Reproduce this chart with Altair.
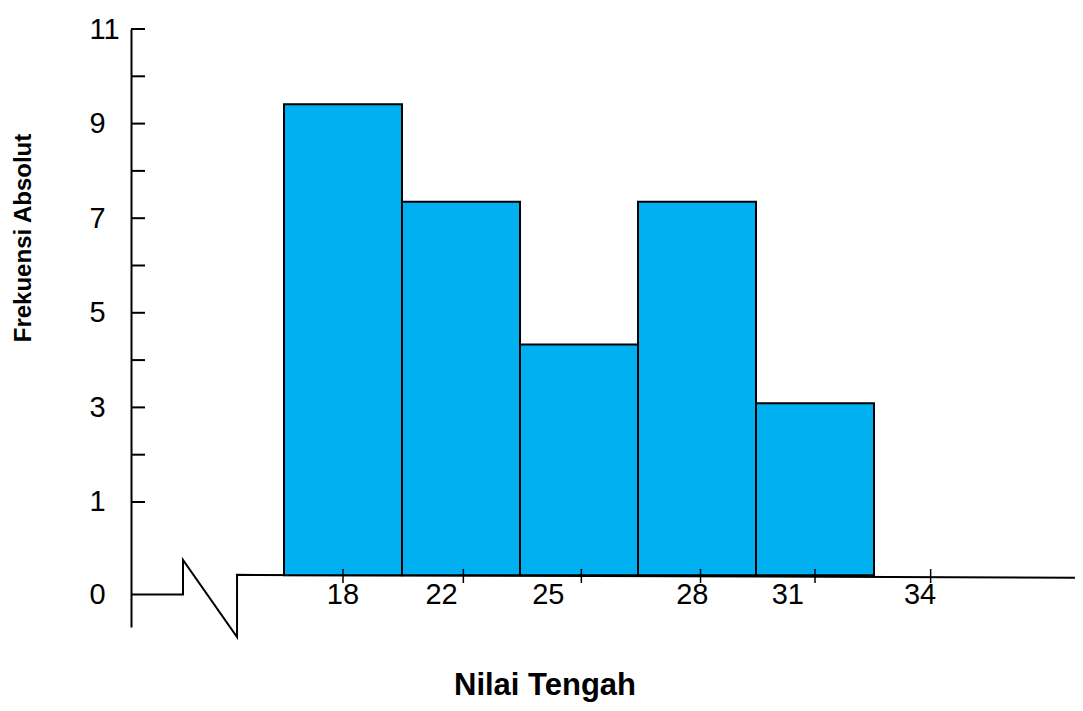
import altair as alt
import pandas as pd

# ---- data ----
bar_index = [0, 1, 2, 3, 4]                     # class number (bar centre)
frekuensi = [9.41, 7.35, 4.33, 7.35, 3.09]      # bar tops as drawn on the axis
bar_base = -0.55                                # drawn floor of the bars (below the break)

x_labels = ["18", "22", "25", "28", "31", "34"]  # Nilai Tengah labels
x_label_pos = [0.0, 0.835, 1.74, 2.96, 3.77, 4.89]
x_tick_pos = [0.0, 1.02, 2.02, 3.03, 4.0, 4.98]

y_label_values = [-0.956, 1, 3, 5, 7, 9, 11]    # -0.956 is the "0" drawn at the break
y_tick_values = [1, 2, 3, 4, 5, 6, 7, 8, 9, 10, 11]

# axis break (zig-zag) and base line, in data units
break_u = [-1.797, -1.356, -1.356, -0.898, -0.898, 6.203]
break_v = [-0.956, -0.956, -0.226, -1.854, -0.54, -0.60]

x_title = "Nilai Tengah"
FONT = "Liberation Sans"

bars_df = pd.DataFrame({
    "x0": [i - 0.5 for i in bar_index],
    "x1": [i + 0.5 for i in bar_index],
    "y0": [bar_base] * len(bar_index),
    "top": frekuensi,
})
break_df = pd.DataFrame({"i": list(range(len(break_u))), "u": break_u, "v": break_v})
ytick_df = pd.DataFrame({"v": y_tick_values})
xtick_df = pd.DataFrame({"u": x_tick_pos})
xlab_df = pd.DataFrame({"u": x_label_pos, "label": x_labels})
xtitle_df = pd.DataFrame({"t": [x_title]})

xs = alt.Scale(domain=[-1.7966, 6.2034], nice=False, zero=False)
ys = alt.Scale(domain=[-1.643, 11], nice=False, zero=False)

y_axis = alt.Axis(
    values=y_label_values,
    labelExpr="datum.value < 0 ? '0' : datum.label",
    ticks=False, grid=False, domain=True, domainColor="black", domainWidth=2,
    labelAlign="left", labelBaseline="middle", labelPadding=42,
    labelFont=FONT, labelFontSize=29, labelColor="black",
    labelOverlap=False, labelFlush=False,
    title="Frekuensi Absolut", titleFont=FONT, titleFontSize=24,
    titleFontWeight="bold", titleColor="black",
    titleX=-108, titleY=208.5, titleAngle=270, titleAlign="center",
    titleBaseline="middle",
)

zigzag = alt.Chart(break_df).mark_line(color="black", strokeWidth=2).encode(
    x=alt.X("u:Q", scale=xs, axis=None),
    y=alt.Y("v:Q", scale=ys, axis=y_axis),
    order="i:O",
)

bars = alt.Chart(bars_df).mark_rect(fill="#00B0F0", stroke="black", strokeWidth=2).encode(
    x=alt.X("x0:Q", scale=xs, axis=None),
    x2="x1",
    y=alt.Y("y0:Q", scale=ys, axis=y_axis),
    y2="top",
)

yticks = alt.Chart(ytick_df).mark_rule(color="black", strokeWidth=2).encode(
    y=alt.Y("v:Q", scale=ys, axis=y_axis),
    x=alt.value(0),
    x2=alt.value(14),
)

xticks = alt.Chart(xtick_df).mark_rule(color="black", strokeWidth=1.5).encode(
    x=alt.X("u:Q", scale=xs, axis=None),
    y=alt.value(540),
    y2=alt.value(554),
)

xlabels = alt.Chart(xlab_df).mark_text(
    font=FONT, fontSize=29, color="black", baseline="middle", align="center"
).encode(
    x=alt.X("u:Q", scale=xs, axis=None),
    y=alt.value(566),
    text="label:N",
)

xtitle = alt.Chart(xtitle_df).mark_text(
    font=FONT, fontSize=31, fontWeight="bold", color="black",
    baseline="alphabetic", align="center"
).encode(
    x=alt.value(414),
    y=alt.value(666),
    text="t:N",
)

chart = alt.layer(zigzag, bars, yticks, xticks, xlabels, xtitle).properties(
    width=944,
    height=598,
    autosize=alt.AutoSizeParams(type="none"),
    padding={"left": 123, "top": 21, "right": 0, "bottom": 76},
).configure(background="white").configure_view(stroke="transparent", strokeWidth=0)

chart.save("out.html", embed_options={"renderer": "svg", "actions": False})
